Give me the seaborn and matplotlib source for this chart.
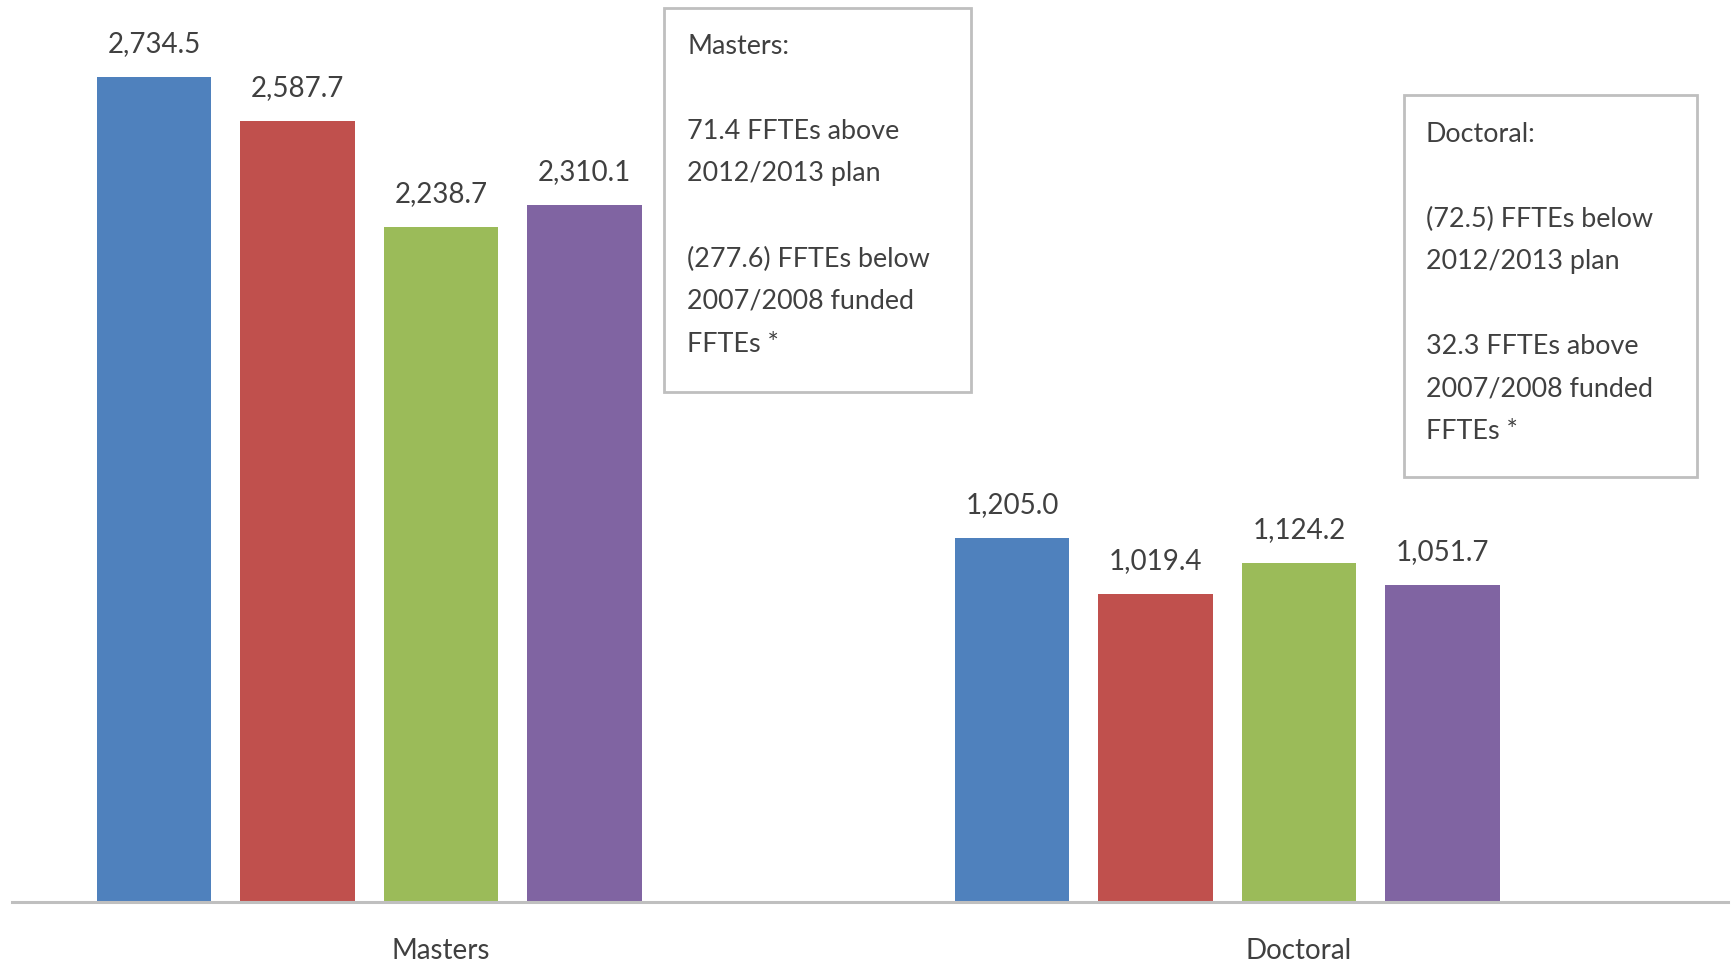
import matplotlib
matplotlib.use("Agg")
import matplotlib.pyplot as plt
import pandas as pd
import seaborn as sns
from matplotlib.patches import Rectangle

# Funded FTE enrolment by program level
categories = ["Masters", "Doctoral"]
series = ["2011/2012 actual", "2007/2008 funded", "2012/2013 plan", "2012/2013 actual"]
spacer = " "  # empty slot that Excel-style clustered bars leave on the right
actual_2011 = [2734.5, 1205.0]
funded_2007 = [2587.7, 1019.4]
plan_2012 = [2238.7, 1124.2]
actual_2012 = [2310.1, 1051.7]

colors = ["#4F81BD", "#C0504D", "#9BBB59", "#8064A2"]
text_color = "#404040"

values = [actual_2011, funded_2007, plan_2012, actual_2012]
rows = []
for name, vals in zip(series, values):
    for cat, v in zip(categories, vals):
        rows.append({"level": cat, "series": name, "ffte": v})
df = pd.DataFrame(rows)

W, H = 1736, 962
sns.set_theme(style="white")
plt.rcParams["font.family"] = ["Lato", "DejaVu Sans"]

fig = plt.figure(figsize=(W / 100, H / 100), dpi=100)
ax = fig.add_axes([12 / W, 59 / H, 1716 / W, 903 / H])

palette = dict(zip(series, colors))
palette[spacer] = "white"
sns.barplot(data=df, x="level", y="ffte", hue="series",
            order=categories, hue_order=series + [spacer],
            palette=palette, width=0.836, gap=0.2, legend=False,
            linewidth=0, saturation=1, ax=ax)

ax.set_xlim(-0.5, 1.5)
ax.set_ylim(0, 2993)
ax.set_xlabel("")
ax.set_ylabel("")
ax.set_yticks([])
for side in ["left", "right", "top"]:
    ax.spines[side].set_visible(False)
ax.spines["bottom"].set_color("#BFBFBF")
ax.spines["bottom"].set_linewidth(2.2)
ax.tick_params(axis="x", length=0, pad=25.5, labelsize=20, labelcolor=text_color)

# value labels above each bar
for container in ax.containers:
    for patch in container:
        h = patch.get_height()
        if h != h or h == 0:
            continue
        ax.annotate(f"{h:,.1f}", (patch.get_x() + patch.get_width() / 2, h),
                    xytext=(0, 24.5), textcoords="offset points",
                    ha="center", va="center", fontsize=20, color=text_color)


def diff_text(a, b):
    d = a - b
    return f"{d:.1f}" if d >= 0 else f"({abs(d):.1f})"


def word(a, b, up, down):
    return up if a - b >= 0 else down


notes = []
for i, cat in enumerate(categories):
    a, p, f = actual_2012[i], plan_2012[i], funded_2007[i]
    notes.append([
        f"{cat}:",
        "",
        f"{diff_text(a, p)} FFTEs {word(a, p, 'above', 'below')}",
        "2012/2013 plan",
        "",
        f"{diff_text(a, f)} FFTEs {word(a, f, 'above', 'below')}",
        "2007/2008 funded",
        "FFTEs *",
    ])

# note boxes: (left, top, right, bottom, text-left, first-line-centre) in pixels
boxes = [(664, 9, 971, 393, 687, 46.5), (1404, 96, 1697, 478, 1426, 134)]
for (l, t, r, b, tx, ty), lines in zip(boxes, notes):
    fig.patches.append(Rectangle((l / W, 1 - b / H), (r - l) / W, (b - t) / H,
                                 transform=fig.transFigure, facecolor="white",
                                 edgecolor="#BFBFBF", linewidth=2))
    for k, line in enumerate(lines):
        if line:
            fig.text(tx / W, 1 - (ty + k * 42.5) / H, line, ha="left", va="center",
                     fontsize=19.4, color=text_color)

fig.savefig("out.png", dpi=100)
